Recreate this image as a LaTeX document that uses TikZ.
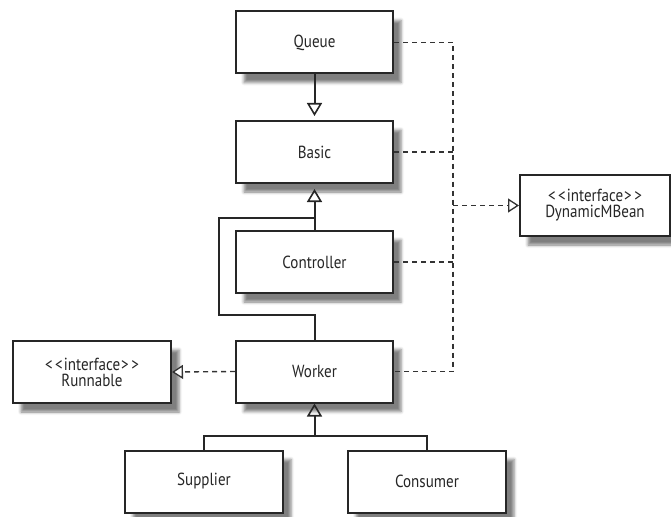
\documentclass[tikz,border=0pt]{standalone}
\usepackage{fontspec}
\setmainfont[FakeStretch=0.86]{PT Sans}
\usetikzlibrary{arrows.meta,shadows.blur}
\newcommand{\stereo}[1]{<\kern2.5pt<\kern1pt#1\kern1pt>\kern2.5pt>}
\begin{document}
\begin{tikzpicture}[x=1pt,y=-1pt,
  cls/.style={draw=black!85, line width=2pt, fill=white, minimum width=157pt, minimum height=62pt,
    inner sep=0pt, align=center, font=\fontsize{17.5}{16}\selectfont\color{black!85},
    blur shadow={shadow xshift=8pt, shadow yshift=-9pt, shadow blur radius=3pt, shadow opacity=50}},
  gen/.style={line width=2pt, draw=black!85, -{Triangle[open, width=15pt, length=13pt, line width=1.6pt]}},
  genl/.style={line width=2pt, draw=black!85},
  real/.style={line width=1.4pt, draw=black!80, dash pattern=on 5pt off 4pt},
  reala/.style={real, -{Triangle[open, width=14pt, length=11pt, line width=1.3pt, fill=white]}}]
\useasboundingbox (0,0) rectangle (671,516);
\node[cls] (queue) at (314.5,42.5) {Queue};
\node[cls] (basic) at (314.5,152) {Basic};
\node[cls] (ctrl) at (314.5,262) {Controller};
\node[cls] (worker) at (314.5,371.5) {Worker};
\node[cls, minimum width=158pt] (runnable) at (92,372) {\stereo{interface}\\Runnable};
\node[cls, minimum width=150pt, minimum height=61pt] (dmb) at (595,205.5) {\stereo{interface}\\DynamicMBean};
\node[cls, minimum width=158pt] (supplier) at (204,481.5) {Supplier};
\node[cls, minimum width=158pt] (consumer) at (427,481.5) {Consumer};
\coordinate (bt) at (453,42.5);
\coordinate (bb) at (453,371.5);
\coordinate (jtop) at (314.5,218);
\coordinate (jleft) at (219,315);
\coordinate (jsc) at (314.5,436);
% generalizations
\draw[gen, shorten >=4pt] (queue.south) -- (basic.north);
\draw[genl] (worker.north) |- (jleft) |- (jtop);
\draw[genl] (ctrl.north) -- (jtop);
\draw[gen, shorten >=5pt] (jtop) -- (basic.south);
\draw[genl] (supplier.north) |- (jsc) -| (consumer.north);
\draw[gen] (jsc) -- (worker.south);
% realizations
\draw[real] (queue.east) -- (bt) -- (bb) -- (worker.east);
\draw[real] (basic.east) -- (basic.east -| bt);
\draw[real] (ctrl.east) -- (ctrl.east -| bt);
\draw[reala] (dmb.west -| bt) -- (dmb.west);
\draw[reala] (worker.west) -- (runnable.east);
\end{tikzpicture}
\end{document}
